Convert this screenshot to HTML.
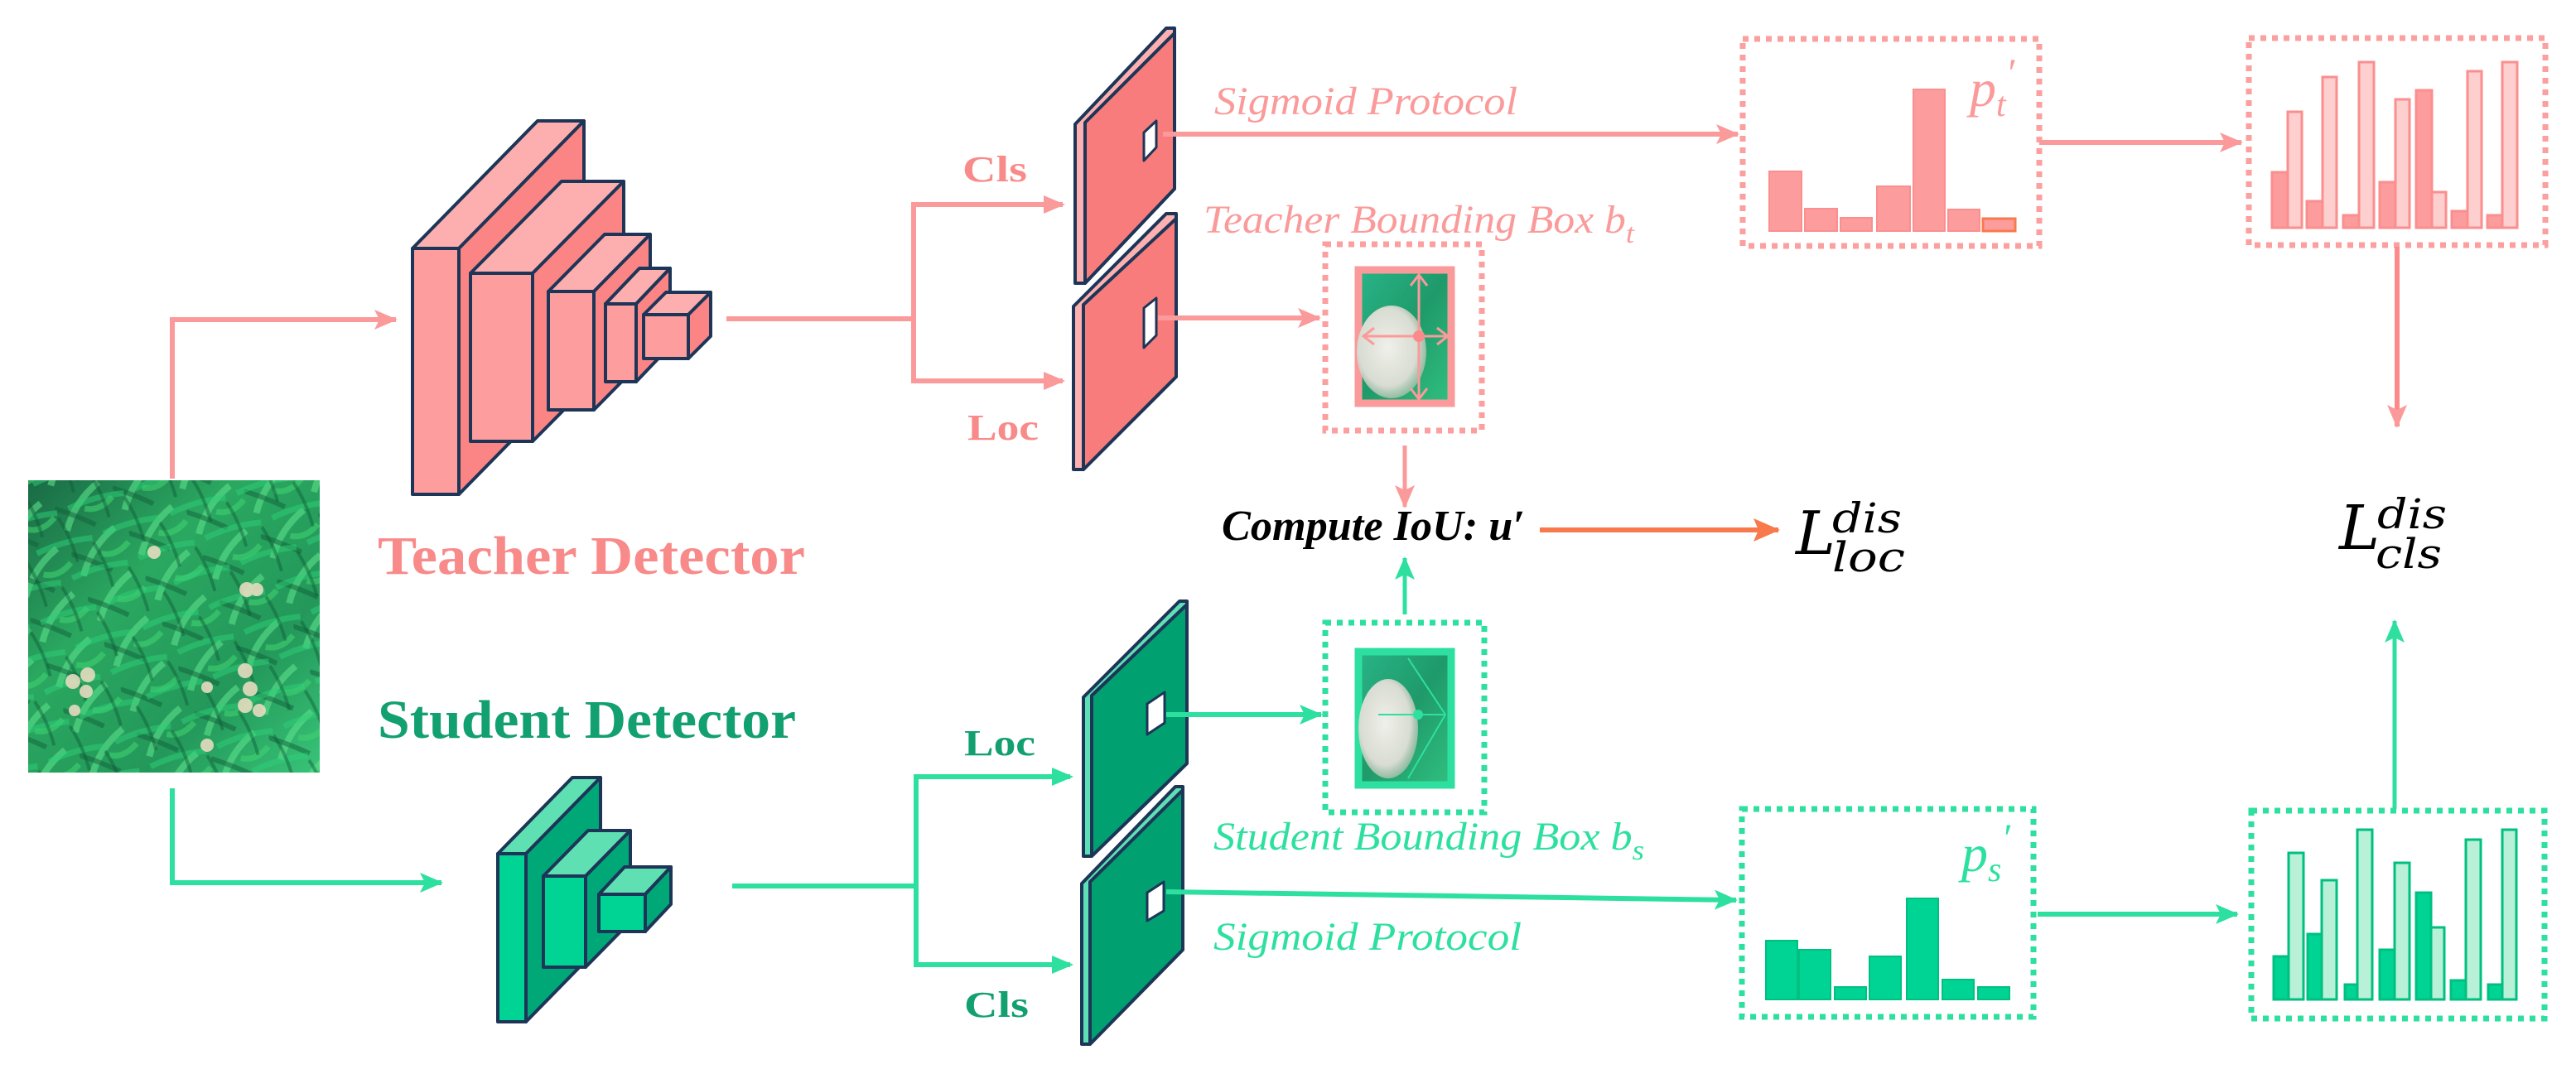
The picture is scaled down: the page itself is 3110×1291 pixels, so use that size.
<!DOCTYPE html>
<html><head><meta charset="utf-8"><style>
html,body{margin:0;padding:0;background:#fff;}
svg{display:block}
</style></head><body>
<svg width="3110" height="1291" viewBox="0 0 3110 1291" xmlns="http://www.w3.org/2000/svg">
<defs>
<marker id="ap" markerWidth="30" markerHeight="30" refX="26" refY="12" orient="auto" markerUnits="userSpaceOnUse"><path d="M0,0 L28,12 L0,24 L6,12 z" fill="#fb9a9a"/></marker>
<marker id="ag" markerWidth="30" markerHeight="30" refX="26" refY="12" orient="auto" markerUnits="userSpaceOnUse"><path d="M0,0 L28,12 L0,24 L6,12 z" fill="#2ee0a0"/></marker>
<marker id="ao" markerWidth="34" markerHeight="34" refX="30" refY="14" orient="auto" markerUnits="userSpaceOnUse"><path d="M0,0 L32,14 L0,28 L6,14 z" fill="#f87a4c"/></marker>
<linearGradient id="leaf" x1="0" y1="0" x2="1" y2="1">
<stop offset="0" stop-color="#1a6a45"/><stop offset="0.35" stop-color="#2aa860"/><stop offset="0.7" stop-color="#23985a"/><stop offset="1" stop-color="#38c478"/></linearGradient>
<linearGradient id="crop" x1="0" y1="0" x2="1" y2="1">
<stop offset="0" stop-color="#28b488"/><stop offset="0.5" stop-color="#1f9a6a"/><stop offset="1" stop-color="#30c080"/></linearGradient>
<radialGradient id="ball" cx="0.45" cy="0.45" r="0.6"><stop offset="0" stop-color="#f0f0ea"/><stop offset="0.7" stop-color="#d8dcd2"/><stop offset="1" stop-color="#b8c0b0" stop-opacity="0.6"/></radialGradient>
<pattern id="lv" width="74" height="58" patternUnits="userSpaceOnUse" patternTransform="rotate(-20)">
<path d="M5,50 Q25,20 60,8" stroke="#5be08a" stroke-width="8" fill="none" opacity="0.6"/>
<path d="M0,20 Q20,35 40,55" stroke="#11603a" stroke-width="6" fill="none" opacity="0.5"/>
<path d="M34,32 Q50,42 70,30" stroke="#3fd070" stroke-width="7" fill="none" opacity="0.6"/>
</pattern>
<pattern id="lv2" width="52" height="66" patternUnits="userSpaceOnUse" patternTransform="rotate(35)">
<path d="M4,60 Q20,30 48,6" stroke="#2ecf78" stroke-width="7" fill="none" opacity="0.5"/>
<path d="M0,10 Q26,20 50,40" stroke="#0e5a36" stroke-width="4" fill="none" opacity="0.45"/>
</pattern>
</defs>

<!-- Photo -->
<rect x="34" y="580" width="352" height="353" fill="url(#leaf)"/>
<rect x="34" y="580" width="352" height="353" fill="url(#lv)"/>
<rect x="34" y="580" width="352" height="353" fill="url(#lv2)"/>
<g fill="#e6dcc0" opacity="0.9">
<circle cx="186" cy="667" r="8"/><circle cx="298" cy="712" r="9"/><circle cx="310" cy="712" r="8"/>
<circle cx="88" cy="823" r="9"/><circle cx="106" cy="815" r="9"/><circle cx="104" cy="835" r="8"/>
<circle cx="296" cy="810" r="9"/><circle cx="302" cy="832" r="9"/><circle cx="296" cy="852" r="9"/><circle cx="313" cy="858" r="8"/>
<circle cx="90" cy="858" r="7"/><circle cx="250" cy="830" r="7"/><circle cx="250" cy="900" r="8"/>
</g>

<!-- Teacher input arrow -->
<polyline points="208,578 208,386 478,386" fill="none" stroke="#fb9a9a" stroke-width="6" marker-end="url(#ap)"/>
<!-- Student input arrow -->
<polyline points="208,952 208,1066 533,1066" fill="none" stroke="#2ee0a0" stroke-width="6" marker-end="url(#ag)"/>

<!-- Teacher CNN -->
<g stroke="#1d3557" stroke-width="4" stroke-linejoin="round">
<polygon points="498,300 554,300 705,146 649,146" fill="#fdaeae"/>
<polygon points="554,300 705,146 705,443 554,597" fill="#fb8585"/>
<rect x="498" y="300" width="56" height="297" fill="#fd9d9d"/>
<polygon points="568,330 643,330 753,219 678,219" fill="#fdaeae"/>
<polygon points="643,330 753,219 753,422 643,533" fill="#fb8585"/>
<rect x="568" y="330" width="75" height="203" fill="#fd9d9d"/>
<polygon points="662,352 717,352 785,283 730,283" fill="#fdaeae"/>
<polygon points="717,352 785,283 785,426 717,495" fill="#fb8585"/>
<rect x="662" y="352" width="55" height="143" fill="#fd9d9d"/>
<polygon points="731,367 768,367 809,324 772,324" fill="#fdaeae"/>
<polygon points="768,367 809,324 809,418 768,461" fill="#fb8585"/>
<rect x="731" y="367" width="37" height="94" fill="#fd9d9d"/>
<polygon points="777,380 831,380 858,353 804,353" fill="#fdaeae"/>
<polygon points="831,380 858,353 858,406 831,433" fill="#fb8585"/>
<rect x="777" y="380" width="54" height="53" fill="#fd9d9d"/>
</g>
<text x="456" y="693" font-family="Liberation Serif" font-weight="bold" font-size="66" fill="#f98a8a" textLength="516" lengthAdjust="spacingAndGlyphs">Teacher Detector</text>

<!-- Student CNN -->
<g stroke="#1d3557" stroke-width="4" stroke-linejoin="round">
<polygon points="601,1031 635,1031 725,939 691,939" fill="#5ee0b2"/>
<polygon points="635,1031 725,939 725,1142 635,1234" fill="#00a878"/>
<rect x="601" y="1031" width="34" height="203" fill="#00d494"/>
<polygon points="656,1058 707,1058 761,1003 710,1003" fill="#5ee0b2"/>
<polygon points="707,1058 761,1003 761,1113 707,1168" fill="#00a878"/>
<rect x="656" y="1058" width="51" height="110" fill="#00d494"/>
<polygon points="723,1080 779,1080 810,1047 754,1047" fill="#5ee0b2"/>
<polygon points="779,1080 810,1047 810,1092 779,1125" fill="#00a878"/>
<rect x="723" y="1080" width="56" height="45" fill="#00d494"/>
</g>
<text x="456" y="891" font-family="Liberation Serif" font-weight="bold" font-size="66" fill="#13a070" textLength="505" lengthAdjust="spacingAndGlyphs">Student Detector</text>

<!-- Teacher branch -->
<polyline points="877,385 1103,385" fill="none" stroke="#fb9a9a" stroke-width="6"/>
<polyline points="1283,247 1103,247 1103,460 1283,460" fill="none" stroke="#fb9a9a" stroke-width="6"/>
<path d="M1260,236 L1286,247 L1260,258 z" fill="#fb9a9a"/>
<path d="M1260,449 L1286,460 L1260,471 z" fill="#fb9a9a"/>
<text x="1162" y="219" font-family="Liberation Serif" font-weight="bold" font-size="44" fill="#f98a8a" textLength="78" lengthAdjust="spacingAndGlyphs">Cls</text>
<text x="1168" y="531" font-family="Liberation Serif" font-weight="bold" font-size="44" fill="#f98a8a" textLength="86" lengthAdjust="spacingAndGlyphs">Loc</text>

<!-- Teacher plates -->
<g stroke="#1d3557" stroke-width="4" stroke-linejoin="round">
<polygon points="1298,150 1408,34 1418,34 1418,228 1310,342 1298,342" fill="#fdb0b0"/>
<polygon points="1310,148 1418,40 1418,228 1310,342" fill="#f87c7c"/>
<polygon points="1381,160 1396,146 1396,178 1381,194" fill="#fff" stroke-width="3"/>
<polygon points="1296,370 1408,258 1420,258 1420,455 1308,567 1296,567" fill="#fdb0b0"/>
<polygon points="1308,368 1420,264 1420,455 1308,567" fill="#f87c7c"/>
<polygon points="1381,372 1396,360 1396,405 1381,420" fill="#fff" stroke-width="3"/>
</g>

<!-- Teacher cls path -->
<line x1="1404" y1="162" x2="2098" y2="162" stroke="#fb9a9a" stroke-width="6" marker-end="url(#ap)"/>
<text x="1466" y="138" font-family="Liberation Serif" font-style="italic" font-size="48" fill="#fb9a9a" textLength="366" lengthAdjust="spacingAndGlyphs">Sigmoid Protocol</text>
<rect x="2104" y="47" width="358" height="250" fill="none" stroke="#fb9f9f" stroke-width="7" stroke-dasharray="7 7"/>
<g fill="#fc9c9c" stroke="#fb8e8e" stroke-width="2">
<rect x="2136" y="207" width="39" height="72"/>
<rect x="2179" y="252" width="39" height="27"/>
<rect x="2222" y="263" width="38" height="16"/>
<rect x="2266" y="225" width="40" height="54"/>
<rect x="2310" y="108" width="38" height="171"/>
<rect x="2352" y="253" width="38" height="26"/>
<rect x="2394" y="264" width="39" height="15" stroke="#f87a4c" stroke-width="3"/>
</g>
<text x="2378" y="128" font-family="Liberation Serif" font-style="italic" font-size="64" fill="#fb9a9a">p<tspan font-size="42" dy="12">t</tspan><tspan dy="-36" font-size="48">′</tspan></text>

<line x1="2462" y1="172" x2="2706" y2="172" stroke="#fb9a9a" stroke-width="6" marker-end="url(#ap)"/>
<rect x="2715" y="46" width="358" height="250" fill="none" stroke="#fb9f9f" stroke-width="7" stroke-dasharray="7 7"/>
<g stroke="#fb8e8e" stroke-width="3">
<rect x="2743" y="208" width="19" height="67" fill="#fc9c9c"/><rect x="2762" y="135" width="17" height="140" fill="#fdcfcf"/>
<rect x="2785" y="243" width="19" height="32" fill="#fc9c9c"/><rect x="2804" y="93" width="17" height="182" fill="#fdcfcf"/>
<rect x="2829" y="260" width="19" height="15" fill="#fc9c9c"/><rect x="2848" y="75" width="18" height="200" fill="#fdcfcf"/>
<rect x="2873" y="220" width="19" height="55" fill="#fc9c9c"/><rect x="2892" y="120" width="17" height="155" fill="#fdcfcf"/>
<rect x="2917" y="109" width="19" height="166" fill="#fc9c9c"/><rect x="2936" y="232" width="17" height="43" fill="#fdcfcf"/>
<rect x="2960" y="255" width="19" height="20" fill="#fc9c9c"/><rect x="2979" y="86" width="17" height="189" fill="#fdcfcf"/>
<rect x="3003" y="260" width="18" height="15" fill="#fc9c9c"/><rect x="3021" y="75" width="18" height="200" fill="#fdcfcf"/>
</g>
<line x1="2894" y1="298" x2="2894" y2="515" stroke="#fb8a8a" stroke-width="6" marker-end="url(#ap)"/>

<!-- Teacher bbox -->
<line x1="1398" y1="384" x2="1593" y2="384" stroke="#fb9a9a" stroke-width="6" marker-end="url(#ap)"/>
<text x="1453" y="281" font-family="Liberation Serif" font-style="italic" font-size="48" fill="#fb9a9a" textLength="520" lengthAdjust="spacingAndGlyphs">Teacher Bounding Box b<tspan font-size="34" dy="12">t</tspan></text>
<rect x="1600" y="295" width="189" height="225" fill="none" stroke="#fb9f9f" stroke-width="7" stroke-dasharray="7 7"/>
<rect x="1640" y="326" width="112" height="161" fill="url(#crop)" stroke="#fb9a9a" stroke-width="9"/>
<ellipse cx="1680" cy="425" rx="42" ry="56" fill="url(#ball)"/>
<g stroke="#fb9a9a" stroke-width="3" fill="none">
<line x1="1713" y1="332" x2="1713" y2="482"/><line x1="1646" y1="406" x2="1748" y2="406"/>
<polyline points="1703,345 1713,332 1723,345"/><polyline points="1703,469 1713,482 1723,469"/>
<polyline points="1659,396 1646,406 1659,416"/><polyline points="1735,396 1748,406 1735,416"/>
</g>
<circle cx="1713" cy="406" r="7" fill="#fb8a8a"/>
<line x1="1696" y1="538" x2="1696" y2="612" stroke="#fb9a9a" stroke-width="5" marker-end="url(#ap)"/>

<!-- Compute IoU -->
<text x="1475" y="652" font-family="Liberation Serif" font-style="italic" font-weight="bold" font-size="52" fill="#000" textLength="366" lengthAdjust="spacingAndGlyphs">Compute IoU: u′</text>
<line x1="1859" y1="640" x2="2147" y2="640" stroke="#f87a4c" stroke-width="6" marker-end="url(#ao)"/>
<text x="2168" y="669" font-family="DejaVu Serif" font-style="italic" font-size="72" fill="#000">L</text>
<text x="2212" y="643" font-family="DejaVu Serif" font-style="italic" font-size="50" fill="#000" textLength="84" lengthAdjust="spacingAndGlyphs">dis</text>
<text x="2212" y="690" font-family="DejaVu Serif" font-style="italic" font-size="50" fill="#000" textLength="88" lengthAdjust="spacingAndGlyphs">loc</text>
<text x="2824" y="663" font-family="DejaVu Serif" font-style="italic" font-size="74" fill="#000">L</text>
<text x="2870" y="638" font-family="DejaVu Serif" font-style="italic" font-size="50" fill="#000" textLength="84" lengthAdjust="spacingAndGlyphs">dis</text>
<text x="2868" y="686" font-family="DejaVu Serif" font-style="italic" font-size="50" fill="#000" textLength="80" lengthAdjust="spacingAndGlyphs">cls</text>

<!-- Student branch -->
<polyline points="884,1070 1106,1070" fill="none" stroke="#2ee0a0" stroke-width="6"/>
<polyline points="1292,938 1106,938 1106,1165 1292,1165" fill="none" stroke="#2ee0a0" stroke-width="6"/>
<path d="M1270,927 L1296,938 L1270,949 z" fill="#2ee0a0"/>
<path d="M1270,1154 L1296,1165 L1270,1176 z" fill="#2ee0a0"/>
<text x="1164" y="912" font-family="Liberation Serif" font-weight="bold" font-size="44" fill="#13a070" textLength="86" lengthAdjust="spacingAndGlyphs">Loc</text>
<text x="1164" y="1228" font-family="Liberation Serif" font-weight="bold" font-size="44" fill="#13a070" textLength="78" lengthAdjust="spacingAndGlyphs">Cls</text>

<!-- Student plates -->
<g stroke="#1d3557" stroke-width="4" stroke-linejoin="round">
<polygon points="1308,842 1424,726 1433,726 1433,922 1318,1034 1308,1034" fill="#5ee0b5"/>
<polygon points="1318,840 1433,730 1433,922 1318,1034" fill="#00a070"/>
<polygon points="1385,850 1406,836 1406,873 1385,887" fill="#fff" stroke-width="3"/>
<polygon points="1306,1067 1419,950 1428,950 1428,1147 1316,1261 1306,1261" fill="#5ee0b5"/>
<polygon points="1316,1065 1428,954 1428,1147 1316,1261" fill="#00a070"/>
<polygon points="1385,1078 1405,1065 1405,1100 1385,1112" fill="#fff" stroke-width="3"/>
</g>

<!-- Student bbox -->
<line x1="1408" y1="863" x2="1595" y2="863" stroke="#2ee0a0" stroke-width="6" marker-end="url(#ag)"/>
<rect x="1600" y="752" width="192" height="229" fill="none" stroke="#2ee0a0" stroke-width="7" stroke-dasharray="7 7"/>
<rect x="1640" y="787" width="112" height="161" fill="url(#crop)" stroke="#2ee0a0" stroke-width="9"/>
<ellipse cx="1676" cy="880" rx="36" ry="60" fill="url(#ball)"/>
<g stroke="#2ee0a0" stroke-width="2" fill="none">
<line x1="1664" y1="863" x2="1745" y2="863"/><polyline points="1700,795 1745,863 1700,940"/>
</g>
<circle cx="1712" cy="863" r="6" fill="#2ee0a0"/>
<line x1="1696" y1="742" x2="1696" y2="674" stroke="#2ee0a0" stroke-width="5" marker-end="url(#ag)"/>
<text x="1465" y="1026" font-family="Liberation Serif" font-style="italic" font-size="48" fill="#2ee0a0" textLength="520" lengthAdjust="spacingAndGlyphs">Student Bounding Box b<tspan font-size="34" dy="12">s</tspan></text>

<!-- Student cls path -->
<line x1="1408" y1="1077" x2="2096" y2="1087" stroke="#2ee0a0" stroke-width="6" marker-end="url(#ag)"/>
<text x="1465" y="1147" font-family="Liberation Serif" font-style="italic" font-size="48" fill="#2ee0a0" textLength="372" lengthAdjust="spacingAndGlyphs">Sigmoid Protocol</text>
<rect x="2103" y="977" width="352" height="251" fill="none" stroke="#2ee0a0" stroke-width="7" stroke-dasharray="7 7"/>
<g fill="#00d494" stroke="#00c080" stroke-width="2">
<rect x="2132" y="1136" width="38" height="71"/>
<rect x="2172" y="1147" width="38" height="60"/>
<rect x="2215" y="1192" width="38" height="15"/>
<rect x="2257" y="1155" width="38" height="52"/>
<rect x="2302" y="1085" width="38" height="122"/>
<rect x="2345" y="1183" width="38" height="24"/>
<rect x="2388" y="1192" width="38" height="15"/>
</g>
<text x="2368" y="1052" font-family="Liberation Serif" font-style="italic" font-size="64" fill="#2ee0a0">p<tspan font-size="42" dy="12">s</tspan><tspan dy="-36" font-size="48">′</tspan></text>

<line x1="2460" y1="1104" x2="2701" y2="1104" stroke="#2ee0a0" stroke-width="6" marker-end="url(#ag)"/>
<rect x="2718" y="979" width="354" height="251" fill="none" stroke="#2ee0a0" stroke-width="7" stroke-dasharray="7 7"/>
<g stroke="#00c080" stroke-width="3">
<rect x="2745" y="1155" width="18" height="52" fill="#00d494"/><rect x="2763" y="1030" width="18" height="177" fill="#b8f0d8"/>
<rect x="2786" y="1128" width="17" height="79" fill="#00d494"/><rect x="2803" y="1063" width="18" height="144" fill="#b8f0d8"/>
<rect x="2831" y="1189" width="15" height="18" fill="#00d494"/><rect x="2846" y="1002" width="18" height="205" fill="#b8f0d8"/>
<rect x="2873" y="1147" width="18" height="60" fill="#00d494"/><rect x="2891" y="1042" width="18" height="165" fill="#b8f0d8"/>
<rect x="2917" y="1078" width="18" height="129" fill="#00d494"/><rect x="2935" y="1120" width="16" height="87" fill="#b8f0d8"/>
<rect x="2959" y="1184" width="18" height="23" fill="#00d494"/><rect x="2977" y="1014" width="18" height="193" fill="#b8f0d8"/>
<rect x="3004" y="1189" width="17" height="18" fill="#00d494"/><rect x="3021" y="1002" width="17" height="205" fill="#b8f0d8"/>
</g>
<line x1="2891" y1="977" x2="2891" y2="750" stroke="#2ee0a0" stroke-width="5" marker-end="url(#ag)"/>
</svg>
</body></html>
